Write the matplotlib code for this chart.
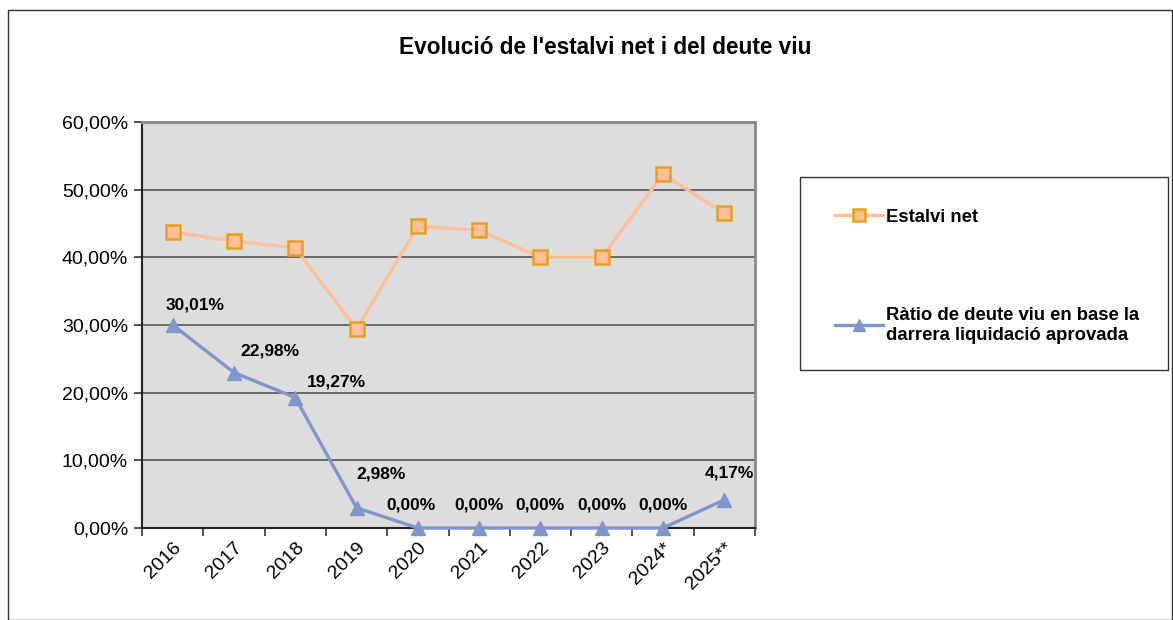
import numpy as np
import matplotlib
matplotlib.use("Agg")
from matplotlib import pyplot as plt
from matplotlib.patches import Rectangle
from matplotlib.ticker import FuncFormatter, FixedLocator

plt.rcParams['font.family'] = ['Liberation Sans', 'DejaVu Sans']

years = ['2016', '2017', '2018', '2019', '2020', '2021', '2022', '2023', '2024*', '2025**']
estalvi_net = [43.7, 42.4, 41.4, 29.4, 44.6, 44.0, 40.0, 40.0, 52.3, 46.5]
ratio_deute = [30.01, 22.98, 19.27, 2.98, 0.00, 0.00, 0.00, 0.00, 0.00, 4.17]
label_offsets = [(16, 9), (26, 10), (30, 6), (18, 19), (-5, 11), (0, 11), (0, 11), (0, 11), (0, 11), (4, 14)]

W, H = 1173, 620
fig = plt.figure(figsize=(W / 100, H / 100), dpi=100, facecolor='white')

# outer chart frame
fig.add_artist(Rectangle((8 / W, 0), (W - 9) / W, 1 - 10 / H, transform=fig.transFigure,
                         fill=False, edgecolor='#303030', lw=1.0))

ax = fig.add_axes([142 / W, 1 - 528 / H, (755 - 142) / W, (528 - 122) / H])
ax.set_facecolor('#DDDDDD')
x = np.arange(len(years))

l1, = ax.plot(x, estalvi_net, color='#FFBF99', lw=2.4, marker='s', markersize=10,
              markerfacecolor='#FFBF99', markeredgecolor='#E6A020', markeredgewidth=1.8, zorder=3)
l2, = ax.plot(x, ratio_deute, color='#7F96CC', lw=2.4, marker='^', markersize=10,
              markerfacecolor='#7F96CC', markeredgecolor='#7F96CC', zorder=3, clip_on=False)

for xi, v, off in zip(x, ratio_deute, label_offsets):
    ax.annotate(f'{v:.2f}%'.replace('.', ','), (xi, v), xytext=off, textcoords='offset points',
                ha='center', va='bottom', fontsize=12.5, fontweight='bold', color='black')

ax.set_xlim(-0.5, len(years) - 0.5)
ax.set_ylim(0, 60)
ax.set_yticks(np.arange(0, 61, 10))
ax.yaxis.set_major_formatter(FuncFormatter(lambda v, p: f'{v:.2f}%'.replace('.', ',')))
ax.grid(axis='y', color='#555555', lw=1.2)
ax.set_axisbelow(True)

ax.xaxis.set_major_locator(FixedLocator(np.arange(-0.5, len(years), 1.0)))
ax.xaxis.set_major_formatter(FuncFormatter(lambda v, p: ''))
ax.xaxis.set_minor_locator(FixedLocator(x))
ax.set_xticklabels(years, minor=True, rotation=45, ha='right', rotation_mode='anchor', fontsize=14)
ax.tick_params(axis='x', which='minor', length=0, pad=8)
ax.tick_params(axis='x', which='major', length=6, width=1.2, color='#333333')
ax.tick_params(axis='y', length=6, width=1.2, color='#333333', labelsize=14, pad=4)

for s in ['left', 'bottom']:
    ax.spines[s].set_color('#222222')
    ax.spines[s].set_linewidth(1.5)
for s in ['top', 'right']:
    ax.spines[s].set_color('#888888')
    ax.spines[s].set_linewidth(2)

fig.text(605 / W, 1 - 48 / H, "Evolució de l'estalvi net i del deute viu", ha='center', va='center',
         fontsize=16.3, fontweight='bold')

# legend box
fig.add_artist(Rectangle((800 / W, 1 - 370 / H), 368 / W, 193 / H, transform=fig.transFigure,
                         fill=False, edgecolor='#333333', lw=1.0))
leg = fig.legend([l1, l2], ['Estalvi net', 'Ràtio de deute viu en base la\ndarrera liquidació aprovada'],
                 loc='upper left', bbox_to_anchor=(818 / W, 1 - 192 / H), frameon=False,
                 prop={'size': 13.3, 'weight': 'bold'}, handlelength=2.6, handletextpad=0.2,
                 labelspacing=4.4, markerscale=0.8)

fig.savefig('out.png', dpi=100, facecolor='white')
